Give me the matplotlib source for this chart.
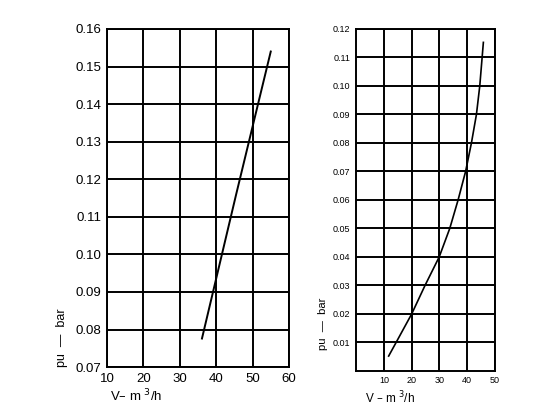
import matplotlib.pyplot as plt

# left chart: pressure loss vs flow
flow_a = [36.1, 45.5, 55.0]
dp_a = [0.0776, 0.116, 0.154]

# right chart
flow_b = [11.7, 14.4, 20.0, 24.8, 29.9, 33.7, 36.7, 39.4, 41.5, 43.3, 44.5, 45.8]
dp_b = [0.0052, 0.010, 0.020, 0.030, 0.040, 0.050, 0.060, 0.070, 0.080, 0.090, 0.100, 0.1153]

xticks_a = [10, 20, 30, 40, 50, 60]
yticks_a = [0.07, 0.08, 0.09, 0.10, 0.11, 0.12, 0.13, 0.14, 0.15, 0.16]
xticks_b = [10, 20, 30, 40, 50]
yticks_b = [0.01, 0.02, 0.03, 0.04, 0.05, 0.06, 0.07, 0.08, 0.09, 0.10, 0.11, 0.12]

plt.rcParams['font.family'] = ['Liberation Sans', 'DejaVu Sans']

fig = plt.figure(figsize=(5.6, 4.2), dpi=100)

def setup(ax, xlim, ylim, xticks, yticks, fs):
    ax.set_xlim(*xlim)
    ax.set_ylim(*ylim)
    ax.set_xticks(xticks)
    ax.set_yticks(yticks)
    ax.set_yticklabels([f'{v:.2f}' for v in yticks])
    ax.grid(True, color='black', linewidth=1.4)
    ax.tick_params(length=0, labelsize=fs, pad=4)
    for s in ax.spines.values():
        s.set_linewidth(1.4)

ax1 = fig.add_axes([0.191, 0.126, 0.325, 0.805])
setup(ax1, (10, 60), (0.07, 0.16), xticks_a, yticks_a, 9.5)
ax1.plot(flow_a, dp_a, color='black', linewidth=1.4)

ax2 = fig.add_axes([0.636, 0.117, 0.248, 0.814])
setup(ax2, (0, 50), (0, 0.12), xticks_b, yticks_b, 6.5)
ax2.plot(flow_b, dp_b, color='black', linewidth=1.2)

fig.text(0.111, 0.195, 'pu  \u2014  bar', rotation=90, fontsize=9, ha='center', va='center')
fig.text(0.196, 0.058, 'V\u2013 m $^3$/h', fontsize=9.5, ha='left', va='center')
fig.text(0.577, 0.23, 'pu  \u2014  bar', rotation=90, fontsize=8, ha='center', va='center')
fig.text(0.652, 0.052, 'V \u2013 m $^3$/h', fontsize=8.5, ha='left', va='center')

fig.savefig('out.png', dpi=100)
